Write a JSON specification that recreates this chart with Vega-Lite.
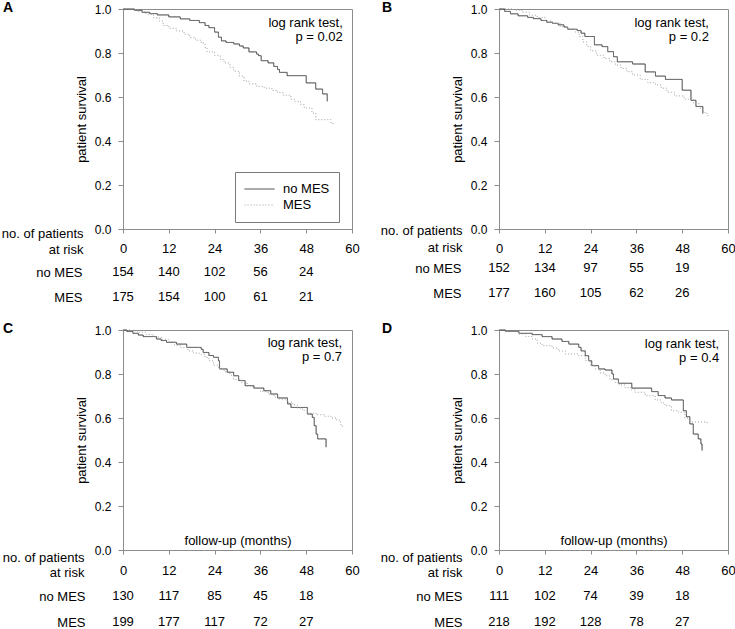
{
  "$schema": "https://vega.github.io/schema/vega-lite/v6.json",
  "background": "white",
  "padding": {"left": 1, "top": 0, "right": 0, "bottom": 0},
  "config": {
    "font": "Liberation Sans",
    "view": {"stroke": "#8c8c8c", "strokeWidth": 1},
    "axis": {"grid": false, "domainColor": "#8c8c8c", "tickColor": "#8c8c8c", "labelColor": "black", "titleColor": "black", "labelFont": "Liberation Sans", "titleFont": "Liberation Sans", "titleFontWeight": "normal", "labelFontSize": 13, "titleFontSize": 13},
    "title": {"anchor": "start", "frame": "group", "offset": -12, "baseline": "middle", "fontSize": 14, "fontWeight": "bold", "color": "black", "font": "Liberation Sans"},
    "text": {"font": "Liberation Sans", "fontSize": 13, "color": "black"}
  },
  "datasets": {
    "km": [
      {"panel":"A","group":"no MES","t":0,"s":1},{"panel":"A","group":"no MES","t":3,"s":0.994},{"panel":"A","group":"no MES","t":5,"s":0.985},{"panel":"A","group":"no MES","t":7,"s":0.979},{"panel":"A","group":"no MES","t":9,"s":0.973},{"panel":"A","group":"no MES","t":12,"s":0.964},{"panel":"A","group":"no MES","t":15,"s":0.955},{"panel":"A","group":"no MES","t":17.5,"s":0.948},{"panel":"A","group":"no MES","t":20,"s":0.938},{"panel":"A","group":"no MES","t":21.5,"s":0.925},{"panel":"A","group":"no MES","t":22.5,"s":0.915},{"panel":"A","group":"no MES","t":24,"s":0.895},{"panel":"A","group":"no MES","t":25,"s":0.872},{"panel":"A","group":"no MES","t":25.8,"s":0.855},{"panel":"A","group":"no MES","t":27,"s":0.848},{"panel":"A","group":"no MES","t":29,"s":0.841},{"panel":"A","group":"no MES","t":30.5,"s":0.832},{"panel":"A","group":"no MES","t":31.5,"s":0.823},{"panel":"A","group":"no MES","t":33,"s":0.805},{"panel":"A","group":"no MES","t":35,"s":0.795},{"panel":"A","group":"no MES","t":35.5,"s":0.788},{"panel":"A","group":"no MES","t":36.2,"s":0.765},{"panel":"A","group":"no MES","t":38,"s":0.755},{"panel":"A","group":"no MES","t":39.5,"s":0.739},{"panel":"A","group":"no MES","t":40.5,"s":0.725},{"panel":"A","group":"no MES","t":41,"s":0.712},{"panel":"A","group":"no MES","t":43,"s":0.697},{"panel":"A","group":"no MES","t":48,"s":0.664},{"panel":"A","group":"no MES","t":50.5,"s":0.636},{"panel":"A","group":"no MES","t":52.3,"s":0.614},{"panel":"A","group":"no MES","t":53.5,"s":0.58},
      {"panel":"A","group":"MES","t":0,"s":1},{"panel":"A","group":"MES","t":2,"s":0.997},{"panel":"A","group":"MES","t":4,"s":0.988},{"panel":"A","group":"MES","t":6,"s":0.976},{"panel":"A","group":"MES","t":8,"s":0.96},{"panel":"A","group":"MES","t":9.5,"s":0.945},{"panel":"A","group":"MES","t":10.5,"s":0.925},{"panel":"A","group":"MES","t":12,"s":0.912},{"panel":"A","group":"MES","t":14,"s":0.9},{"panel":"A","group":"MES","t":16,"s":0.885},{"panel":"A","group":"MES","t":17.5,"s":0.87},{"panel":"A","group":"MES","t":19,"s":0.858},{"panel":"A","group":"MES","t":20.5,"s":0.845},{"panel":"A","group":"MES","t":21.5,"s":0.825},{"panel":"A","group":"MES","t":22,"s":0.805},{"panel":"A","group":"MES","t":24,"s":0.788},{"panel":"A","group":"MES","t":25.5,"s":0.77},{"panel":"A","group":"MES","t":26.5,"s":0.755},{"panel":"A","group":"MES","t":28,"s":0.735},{"panel":"A","group":"MES","t":29,"s":0.717},{"panel":"A","group":"MES","t":30.5,"s":0.695},{"panel":"A","group":"MES","t":31.7,"s":0.672},{"panel":"A","group":"MES","t":33,"s":0.66},{"panel":"A","group":"MES","t":35,"s":0.648},{"panel":"A","group":"MES","t":37,"s":0.64},{"panel":"A","group":"MES","t":39,"s":0.63},{"panel":"A","group":"MES","t":40.5,"s":0.62},{"panel":"A","group":"MES","t":42,"s":0.608},{"panel":"A","group":"MES","t":44,"s":0.59},{"panel":"A","group":"MES","t":45,"s":0.58},{"panel":"A","group":"MES","t":46.5,"s":0.565},{"panel":"A","group":"MES","t":47.5,"s":0.55},{"panel":"A","group":"MES","t":49.5,"s":0.527},{"panel":"A","group":"MES","t":50.5,"s":0.497},{"panel":"A","group":"MES","t":54.5,"s":0.482},{"panel":"A","group":"MES","t":55,"s":0.474},
      {"panel":"B","group":"no MES","t":0,"s":1},{"panel":"B","group":"no MES","t":1.5,"s":0.989},{"panel":"B","group":"no MES","t":3,"s":0.978},{"panel":"B","group":"no MES","t":5,"s":0.969},{"panel":"B","group":"no MES","t":7.5,"s":0.962},{"panel":"B","group":"no MES","t":9,"s":0.956},{"panel":"B","group":"no MES","t":11,"s":0.948},{"panel":"B","group":"no MES","t":12.5,"s":0.94},{"panel":"B","group":"no MES","t":14,"s":0.935},{"panel":"B","group":"no MES","t":15.5,"s":0.928},{"panel":"B","group":"no MES","t":17,"s":0.918},{"panel":"B","group":"no MES","t":18,"s":0.908},{"panel":"B","group":"no MES","t":20.5,"s":0.902},{"panel":"B","group":"no MES","t":21.5,"s":0.89},{"panel":"B","group":"no MES","t":22.5,"s":0.875},{"panel":"B","group":"no MES","t":25,"s":0.837},{"panel":"B","group":"no MES","t":27,"s":0.829},{"panel":"B","group":"no MES","t":28.5,"s":0.806},{"panel":"B","group":"no MES","t":30,"s":0.783},{"panel":"B","group":"no MES","t":31,"s":0.76},{"panel":"B","group":"no MES","t":35,"s":0.75},{"panel":"B","group":"no MES","t":38.3,"s":0.714},{"panel":"B","group":"no MES","t":41,"s":0.695},{"panel":"B","group":"no MES","t":43.6,"s":0.68},{"panel":"B","group":"no MES","t":48,"s":0.631},{"panel":"B","group":"no MES","t":50.3,"s":0.585},{"panel":"B","group":"no MES","t":51.6,"s":0.557},{"panel":"B","group":"no MES","t":53.4,"s":0.524},
      {"panel":"B","group":"MES","t":0,"s":1},{"panel":"B","group":"MES","t":4,"s":0.995},{"panel":"B","group":"MES","t":6,"s":0.985},{"panel":"B","group":"MES","t":8,"s":0.972},{"panel":"B","group":"MES","t":10,"s":0.962},{"panel":"B","group":"MES","t":12,"s":0.945},{"panel":"B","group":"MES","t":14,"s":0.935},{"panel":"B","group":"MES","t":16,"s":0.92},{"panel":"B","group":"MES","t":18,"s":0.91},{"panel":"B","group":"MES","t":20,"s":0.895},{"panel":"B","group":"MES","t":21,"s":0.875},{"panel":"B","group":"MES","t":22,"s":0.85},{"panel":"B","group":"MES","t":23,"s":0.83},{"panel":"B","group":"MES","t":24,"s":0.81},{"panel":"B","group":"MES","t":25.5,"s":0.79},{"panel":"B","group":"MES","t":27.5,"s":0.775},{"panel":"B","group":"MES","t":29,"s":0.76},{"panel":"B","group":"MES","t":30.5,"s":0.745},{"panel":"B","group":"MES","t":32,"s":0.73},{"panel":"B","group":"MES","t":33.5,"s":0.715},{"panel":"B","group":"MES","t":35,"s":0.7},{"panel":"B","group":"MES","t":37,"s":0.68},{"panel":"B","group":"MES","t":39,"s":0.665},{"panel":"B","group":"MES","t":41,"s":0.655},{"panel":"B","group":"MES","t":42.5,"s":0.64},{"panel":"B","group":"MES","t":44,"s":0.622},{"panel":"B","group":"MES","t":46,"s":0.605},{"panel":"B","group":"MES","t":48.5,"s":0.59},{"panel":"B","group":"MES","t":51,"s":0.57},{"panel":"B","group":"MES","t":52.5,"s":0.55},{"panel":"B","group":"MES","t":53.5,"s":0.53},{"panel":"B","group":"MES","t":54.5,"s":0.515},{"panel":"B","group":"MES","t":55,"s":0.51},
      {"panel":"C","group":"no MES","t":0,"s":1},{"panel":"C","group":"no MES","t":1,"s":0.993},{"panel":"C","group":"no MES","t":2.6,"s":0.985},{"panel":"C","group":"no MES","t":4,"s":0.977},{"panel":"C","group":"no MES","t":5.3,"s":0.97},{"panel":"C","group":"no MES","t":8.8,"s":0.959},{"panel":"C","group":"no MES","t":10,"s":0.952},{"panel":"C","group":"no MES","t":11.4,"s":0.944},{"panel":"C","group":"no MES","t":14,"s":0.936},{"panel":"C","group":"no MES","t":16.7,"s":0.921},{"panel":"C","group":"no MES","t":20.5,"s":0.912},{"panel":"C","group":"no MES","t":21,"s":0.898},{"panel":"C","group":"no MES","t":22.5,"s":0.884},{"panel":"C","group":"no MES","t":23.7,"s":0.876},{"panel":"C","group":"no MES","t":25,"s":0.86},{"panel":"C","group":"no MES","t":25.3,"s":0.823},{"panel":"C","group":"no MES","t":27.3,"s":0.808},{"panel":"C","group":"no MES","t":29,"s":0.792},{"panel":"C","group":"no MES","t":30.3,"s":0.77},{"panel":"C","group":"no MES","t":32,"s":0.747},{"panel":"C","group":"no MES","t":34.3,"s":0.736},{"panel":"C","group":"no MES","t":36.9,"s":0.724},{"panel":"C","group":"no MES","t":38.7,"s":0.709},{"panel":"C","group":"no MES","t":40.5,"s":0.691},{"panel":"C","group":"no MES","t":43.1,"s":0.664},{"panel":"C","group":"no MES","t":44,"s":0.648},{"panel":"C","group":"no MES","t":48.3,"s":0.618},{"panel":"C","group":"no MES","t":49.6,"s":0.603},{"panel":"C","group":"no MES","t":50.1,"s":0.565},{"panel":"C","group":"no MES","t":50.6,"s":0.527},{"panel":"C","group":"no MES","t":51,"s":0.505},{"panel":"C","group":"no MES","t":53.2,"s":0.467},
      {"panel":"C","group":"MES","t":0,"s":1},{"panel":"C","group":"MES","t":2,"s":0.996},{"panel":"C","group":"MES","t":4,"s":0.99},{"panel":"C","group":"MES","t":6,"s":0.98},{"panel":"C","group":"MES","t":8,"s":0.968},{"panel":"C","group":"MES","t":10,"s":0.958},{"panel":"C","group":"MES","t":12,"s":0.948},{"panel":"C","group":"MES","t":13.5,"s":0.93},{"panel":"C","group":"MES","t":15,"s":0.92},{"panel":"C","group":"MES","t":17,"s":0.905},{"panel":"C","group":"MES","t":18.5,"s":0.895},{"panel":"C","group":"MES","t":20,"s":0.89},{"panel":"C","group":"MES","t":21.5,"s":0.875},{"panel":"C","group":"MES","t":22.5,"s":0.86},{"panel":"C","group":"MES","t":23.7,"s":0.84},{"panel":"C","group":"MES","t":25,"s":0.825},{"panel":"C","group":"MES","t":26.5,"s":0.81},{"panel":"C","group":"MES","t":28,"s":0.795},{"panel":"C","group":"MES","t":29,"s":0.775},{"panel":"C","group":"MES","t":31,"s":0.76},{"panel":"C","group":"MES","t":32.5,"s":0.745},{"panel":"C","group":"MES","t":34,"s":0.735},{"panel":"C","group":"MES","t":36,"s":0.72},{"panel":"C","group":"MES","t":38,"s":0.708},{"panel":"C","group":"MES","t":39.6,"s":0.695},{"panel":"C","group":"MES","t":41,"s":0.685},{"panel":"C","group":"MES","t":43,"s":0.672},{"panel":"C","group":"MES","t":44.5,"s":0.66},{"panel":"C","group":"MES","t":45.7,"s":0.645},{"panel":"C","group":"MES","t":47,"s":0.635},{"panel":"C","group":"MES","t":48.4,"s":0.622},{"panel":"C","group":"MES","t":50.6,"s":0.615},{"panel":"C","group":"MES","t":52.8,"s":0.608},{"panel":"C","group":"MES","t":54.5,"s":0.6},{"panel":"C","group":"MES","t":56,"s":0.59},{"panel":"C","group":"MES","t":57,"s":0.57},{"panel":"C","group":"MES","t":57.5,"s":0.56},
      {"panel":"D","group":"no MES","t":0,"s":1},{"panel":"D","group":"no MES","t":1.7,"s":0.994},{"panel":"D","group":"no MES","t":5.2,"s":0.985},{"panel":"D","group":"no MES","t":8.7,"s":0.979},{"panel":"D","group":"no MES","t":11.3,"s":0.97},{"panel":"D","group":"no MES","t":13.9,"s":0.959},{"panel":"D","group":"no MES","t":16.5,"s":0.948},{"panel":"D","group":"no MES","t":18.3,"s":0.936},{"panel":"D","group":"no MES","t":20.9,"s":0.921},{"panel":"D","group":"no MES","t":21.5,"s":0.905},{"panel":"D","group":"no MES","t":22.6,"s":0.883},{"panel":"D","group":"no MES","t":23.5,"s":0.86},{"panel":"D","group":"no MES","t":24.3,"s":0.838},{"panel":"D","group":"no MES","t":26.1,"s":0.823},{"panel":"D","group":"no MES","t":27.8,"s":0.818},{"panel":"D","group":"no MES","t":29.6,"s":0.8},{"panel":"D","group":"no MES","t":30,"s":0.777},{"panel":"D","group":"no MES","t":31.3,"s":0.758},{"panel":"D","group":"no MES","t":34.8,"s":0.736},{"panel":"D","group":"no MES","t":40,"s":0.72},{"panel":"D","group":"no MES","t":41.7,"s":0.702},{"panel":"D","group":"no MES","t":43.5,"s":0.691},{"panel":"D","group":"no MES","t":45.2,"s":0.682},{"panel":"D","group":"no MES","t":48.3,"s":0.633},{"panel":"D","group":"no MES","t":49.1,"s":0.606},{"panel":"D","group":"no MES","t":50,"s":0.573},{"panel":"D","group":"no MES","t":50.9,"s":0.527},{"panel":"D","group":"no MES","t":52.2,"s":0.505},{"panel":"D","group":"no MES","t":52.9,"s":0.482},{"panel":"D","group":"no MES","t":53.2,"s":0.452},
      {"panel":"D","group":"MES","t":0,"s":1},{"panel":"D","group":"MES","t":2,"s":0.995},{"panel":"D","group":"MES","t":5.2,"s":0.982},{"panel":"D","group":"MES","t":7,"s":0.97},{"panel":"D","group":"MES","t":8.7,"s":0.959},{"panel":"D","group":"MES","t":10,"s":0.94},{"panel":"D","group":"MES","t":11.3,"s":0.929},{"panel":"D","group":"MES","t":13.9,"s":0.918},{"panel":"D","group":"MES","t":15.5,"s":0.905},{"panel":"D","group":"MES","t":17.4,"s":0.891},{"panel":"D","group":"MES","t":20.9,"s":0.883},{"panel":"D","group":"MES","t":22.6,"s":0.861},{"panel":"D","group":"MES","t":24,"s":0.84},{"panel":"D","group":"MES","t":25.2,"s":0.823},{"panel":"D","group":"MES","t":26.5,"s":0.805},{"panel":"D","group":"MES","t":27.8,"s":0.792},{"panel":"D","group":"MES","t":29,"s":0.775},{"panel":"D","group":"MES","t":30.4,"s":0.762},{"panel":"D","group":"MES","t":31.5,"s":0.75},{"panel":"D","group":"MES","t":33,"s":0.739},{"panel":"D","group":"MES","t":34.5,"s":0.728},{"panel":"D","group":"MES","t":35.7,"s":0.717},{"panel":"D","group":"MES","t":38.3,"s":0.702},{"panel":"D","group":"MES","t":40.9,"s":0.682},{"panel":"D","group":"MES","t":42.5,"s":0.668},{"panel":"D","group":"MES","t":43.5,"s":0.656},{"panel":"D","group":"MES","t":45.2,"s":0.633},{"panel":"D","group":"MES","t":47,"s":0.626},{"panel":"D","group":"MES","t":48.7,"s":0.6},{"panel":"D","group":"MES","t":50,"s":0.582},{"panel":"D","group":"MES","t":54.5,"s":0.575}
    ],
    "risk": [
      {"panel":"A","group":"no MES","t":0,"n":154},{"panel":"A","group":"no MES","t":12,"n":140},{"panel":"A","group":"no MES","t":24,"n":102},{"panel":"A","group":"no MES","t":36,"n":56},{"panel":"A","group":"no MES","t":48,"n":24},
      {"panel":"A","group":"MES","t":0,"n":175},{"panel":"A","group":"MES","t":12,"n":154},{"panel":"A","group":"MES","t":24,"n":100},{"panel":"A","group":"MES","t":36,"n":61},{"panel":"A","group":"MES","t":48,"n":21},
      {"panel":"B","group":"no MES","t":0,"n":152},{"panel":"B","group":"no MES","t":12,"n":134},{"panel":"B","group":"no MES","t":24,"n":97},{"panel":"B","group":"no MES","t":36,"n":55},{"panel":"B","group":"no MES","t":48,"n":19},
      {"panel":"B","group":"MES","t":0,"n":177},{"panel":"B","group":"MES","t":12,"n":160},{"panel":"B","group":"MES","t":24,"n":105},{"panel":"B","group":"MES","t":36,"n":62},{"panel":"B","group":"MES","t":48,"n":26},
      {"panel":"C","group":"no MES","t":0,"n":130},{"panel":"C","group":"no MES","t":12,"n":117},{"panel":"C","group":"no MES","t":24,"n":85},{"panel":"C","group":"no MES","t":36,"n":45},{"panel":"C","group":"no MES","t":48,"n":18},
      {"panel":"C","group":"MES","t":0,"n":199},{"panel":"C","group":"MES","t":12,"n":177},{"panel":"C","group":"MES","t":24,"n":117},{"panel":"C","group":"MES","t":36,"n":72},{"panel":"C","group":"MES","t":48,"n":27},
      {"panel":"D","group":"no MES","t":0,"n":111},{"panel":"D","group":"no MES","t":12,"n":102},{"panel":"D","group":"no MES","t":24,"n":74},{"panel":"D","group":"no MES","t":36,"n":39},{"panel":"D","group":"no MES","t":48,"n":18},
      {"panel":"D","group":"MES","t":0,"n":218},{"panel":"D","group":"MES","t":12,"n":192},{"panel":"D","group":"MES","t":24,"n":128},{"panel":"D","group":"MES","t":36,"n":78},{"panel":"D","group":"MES","t":48,"n":27}
    ]
  },
  "columns": 2,
  "bounds": "flush",
  "align": "each",
  "spacing": {"row": 20, "column": 147},
  "resolve": {"scale": {"x": "independent", "y": "independent", "color": "independent", "strokeDash": "independent"}, "legend": {"color": "independent", "strokeDash": "independent"}},
  "concat": [
    {
      "width": 229, "height": 220,
      "title": {"text": "A", "dx": -120},
      "layer": [
        {
          "data": {"name": "km"}, "transform": [{"filter": "datum.panel === 'A'"}],
          "mark": {"type": "line", "interpolate": "step-after", "strokeWidth": 1},
          "encoding": {
            "x": {"field": "t", "type": "quantitative", "scale": {"domain": [0, 60], "nice": false}, "axis": {"values": [0,12,24,36,48,60], "title": null, "labelFlush": false, "tickSize": 4, "labelPadding": 9}},
            "y": {"field": "s", "type": "quantitative", "scale": {"domain": [0, 1], "nice": false}, "axis": {"values": [0,0.2,0.4,0.6,0.8,1], "format": ".1f", "title": "patient survival", "tickSize": 5, "labelPadding": 7, "titlePadding": 6, "labelFontSize": 12}},
            "color": {"field": "group", "type": "nominal", "scale": {"domain": ["no MES", "MES"], "range": ["#3c3c3c", "#a0a0a0"]},
              "legend": {"orient": "none", "legendX": 112, "legendY": 163, "title": null, "symbolType": "stroke", "symbolSize": 900, "symbolStrokeWidth": 1, "clipHeight": 16, "rowPadding": 0, "labelOffset": 8, "padding": 9, "strokeColor": "#7a7a7a", "fillColor": "white", "labelFontSize": 13, "labelColor": "black", "labelFont": "Liberation Sans"}},
            "strokeDash": {"field": "group", "type": "nominal", "scale": {"domain": ["no MES", "MES"], "range": [[1, 0], [1, 2]]},
              "legend": {"orient": "none", "legendX": 112, "legendY": 163, "title": null, "symbolType": "stroke", "symbolSize": 900, "symbolStrokeWidth": 1, "clipHeight": 16, "rowPadding": 0, "labelOffset": 8, "padding": 9, "strokeColor": "#7a7a7a", "fillColor": "white", "labelFontSize": 13, "labelColor": "black", "labelFont": "Liberation Sans"}}
          }
        },
        {
          "data": {"values": [{"note": "A"}]},
          "mark": {"type": "text", "align": "right", "baseline": "alphabetic", "lineHeight": 14, "fontSize": 13, "text": ["log rank test,", "p = 0.02"]},
          "encoding": {"x": {"datum": 57.6, "type": "quantitative"}, "y": {"datum": 0.917, "type": "quantitative"}}
        }
      ]
    },
    {
      "width": 229, "height": 220,
      "title": {"text": "B", "dx": -117},
      "layer": [
        {
          "data": {"name": "km"}, "transform": [{"filter": "datum.panel === 'B'"}],
          "mark": {"type": "line", "interpolate": "step-after", "strokeWidth": 1},
          "encoding": {
            "x": {"field": "t", "type": "quantitative", "scale": {"domain": [0, 60], "nice": false}, "axis": {"values": [0,12,24,36,48,60], "title": null, "labelFlush": false, "tickSize": 4, "labelPadding": 9}},
            "y": {"field": "s", "type": "quantitative", "scale": {"domain": [0, 1], "nice": false}, "axis": {"values": [0,0.2,0.4,0.6,0.8,1], "format": ".1f", "title": "patient survival", "tickSize": 5, "labelPadding": 7, "titlePadding": 6, "labelFontSize": 12}},
            "color": {"field": "group", "type": "nominal", "scale": {"domain": ["no MES", "MES"], "range": ["#3c3c3c", "#a0a0a0"]}, "legend": null},
            "strokeDash": {"field": "group", "type": "nominal", "scale": {"domain": ["no MES", "MES"], "range": [[1, 0], [1, 2]]}, "legend": null}
          }
        },
        {
          "data": {"values": [{"note": "B"}]},
          "mark": {"type": "text", "align": "right", "baseline": "alphabetic", "lineHeight": 14, "fontSize": 13, "text": ["log rank test,", "p = 0.2"]},
          "encoding": {"x": {"datum": 55.0, "type": "quantitative"}, "y": {"datum": 0.92, "type": "quantitative"}}
        }
      ]
    },
    {
      "width": 229, "height": 61,
      "view": {"stroke": null},
      "data": {"name": "risk"}, "transform": [{"filter": "datum.panel === 'A'"}],
      "mark": {"type": "text", "fontSize": 13, "baseline": "middle", "align": "center"},
      "encoding": {
        "x": {"field": "t", "type": "quantitative", "scale": {"domain": [0, 60], "nice": false}, "axis": null},
        "y": {"field": "group", "type": "nominal", "scale": {"type": "point", "padding": 0, "domain": ["no MES", "MES"], "range": [23, 48]},
          "axis": {"title": ["no. of patients", "at risk"], "titleAngle": 0, "titleAlign": "right", "titleBaseline": "middle", "titleX": -40, "titleY": -16, "titleLineHeight": 16, "domain": false, "ticks": false, "tickSize": 0, "labelPadding": 41, "labelFontSize": 13}},
        "text": {"field": "n", "type": "quantitative"}
      }
    },
    {
      "width": 229, "height": 61,
      "view": {"stroke": null},
      "data": {"name": "risk"}, "transform": [{"filter": "datum.panel === 'B'"}],
      "mark": {"type": "text", "fontSize": 13, "baseline": "middle", "align": "center"},
      "encoding": {
        "x": {"field": "t", "type": "quantitative", "scale": {"domain": [0, 60], "nice": false}, "axis": null},
        "y": {"field": "group", "type": "nominal", "scale": {"type": "point", "padding": 0, "domain": ["no MES", "MES"], "range": [19, 44]},
          "axis": {"title": ["no. of patients", "at risk"], "titleAngle": 0, "titleAlign": "right", "titleBaseline": "middle", "titleX": -37, "titleY": -19, "titleLineHeight": 17, "domain": false, "ticks": false, "tickSize": 0, "labelPadding": 38, "labelFontSize": 13}},
        "text": {"field": "n", "type": "quantitative"}
      }
    },
    {
      "width": 229, "height": 220,
      "title": {"text": "C", "dx": -120},
      "layer": [
        {
          "data": {"name": "km"}, "transform": [{"filter": "datum.panel === 'C'"}],
          "mark": {"type": "line", "interpolate": "step-after", "strokeWidth": 1},
          "encoding": {
            "x": {"field": "t", "type": "quantitative", "scale": {"domain": [0, 60], "nice": false}, "axis": {"values": [0,12,24,36,48,60], "title": "follow-up (months)", "titleY": -10, "titleBaseline": "middle", "labelFlush": false, "tickSize": 4, "labelPadding": 10}},
            "y": {"field": "s", "type": "quantitative", "scale": {"domain": [0, 1], "nice": false}, "axis": {"values": [0,0.2,0.4,0.6,0.8,1], "format": ".1f", "title": "patient survival", "tickSize": 5, "labelPadding": 7, "titlePadding": 6, "labelFontSize": 12}},
            "color": {"field": "group", "type": "nominal", "scale": {"domain": ["no MES", "MES"], "range": ["#3c3c3c", "#a0a0a0"]}, "legend": null},
            "strokeDash": {"field": "group", "type": "nominal", "scale": {"domain": ["no MES", "MES"], "range": [[1, 0], [1, 2]]}, "legend": null}
          }
        },
        {
          "data": {"values": [{"note": "C"}]},
          "mark": {"type": "text", "align": "right", "baseline": "alphabetic", "lineHeight": 14, "fontSize": 13, "text": ["log rank test,", "p = 0.7"]},
          "encoding": {"x": {"datum": 57.4, "type": "quantitative"}, "y": {"datum": 0.921, "type": "quantitative"}}
        }
      ]
    },
    {
      "width": 229, "height": 220,
      "title": {"text": "D", "dx": -117},
      "layer": [
        {
          "data": {"name": "km"}, "transform": [{"filter": "datum.panel === 'D'"}],
          "mark": {"type": "line", "interpolate": "step-after", "strokeWidth": 1},
          "encoding": {
            "x": {"field": "t", "type": "quantitative", "scale": {"domain": [0, 60], "nice": false}, "axis": {"values": [0,12,24,36,48,60], "title": "follow-up (months)", "titleY": -10, "titleBaseline": "middle", "labelFlush": false, "tickSize": 4, "labelPadding": 10}},
            "y": {"field": "s", "type": "quantitative", "scale": {"domain": [0, 1], "nice": false}, "axis": {"values": [0,0.2,0.4,0.6,0.8,1], "format": ".1f", "title": "patient survival", "tickSize": 5, "labelPadding": 7, "titlePadding": 6, "labelFontSize": 12}},
            "color": {"field": "group", "type": "nominal", "scale": {"domain": ["no MES", "MES"], "range": ["#3c3c3c", "#a0a0a0"]}, "legend": null},
            "strokeDash": {"field": "group", "type": "nominal", "scale": {"domain": ["no MES", "MES"], "range": [[1, 0], [1, 2]]}, "legend": null}
          }
        },
        {
          "data": {"values": [{"note": "D"}]},
          "mark": {"type": "text", "align": "right", "baseline": "alphabetic", "lineHeight": 14, "fontSize": 13, "text": ["log rank test,", "p = 0.4"]},
          "encoding": {"x": {"datum": 57.7, "type": "quantitative"}, "y": {"datum": 0.918, "type": "quantitative"}}
        }
      ]
    },
    {
      "width": 229, "height": 61,
      "view": {"stroke": null},
      "data": {"name": "risk"}, "transform": [{"filter": "datum.panel === 'C'"}],
      "mark": {"type": "text", "fontSize": 13, "baseline": "middle", "align": "center"},
      "encoding": {
        "x": {"field": "t", "type": "quantitative", "scale": {"domain": [0, 60], "nice": false}, "axis": null},
        "y": {"field": "group", "type": "nominal", "scale": {"type": "point", "padding": 0, "domain": ["no MES", "MES"], "range": [26, 52]},
          "axis": {"title": ["no. of patients", "at risk"], "titleAngle": 0, "titleAlign": "right", "titleBaseline": "middle", "titleX": -39, "titleY": -13, "titleLineHeight": 15, "domain": false, "ticks": false, "tickSize": 0, "labelPadding": 38, "labelFontSize": 13}},
        "text": {"field": "n", "type": "quantitative"}
      }
    },
    {
      "width": 229, "height": 61,
      "view": {"stroke": null},
      "data": {"name": "risk"}, "transform": [{"filter": "datum.panel === 'D'"}],
      "mark": {"type": "text", "fontSize": 13, "baseline": "middle", "align": "center"},
      "encoding": {
        "x": {"field": "t", "type": "quantitative", "scale": {"domain": [0, 60], "nice": false}, "axis": null},
        "y": {"field": "group", "type": "nominal", "scale": {"type": "point", "padding": 0, "domain": ["no MES", "MES"], "range": [26, 52]},
          "axis": {"title": ["no. of patients", "at risk"], "titleAngle": 0, "titleAlign": "right", "titleBaseline": "middle", "titleX": -37, "titleY": -13, "titleLineHeight": 15, "domain": false, "ticks": false, "tickSize": 0, "labelPadding": 37, "labelFontSize": 13}},
        "text": {"field": "n", "type": "quantitative"}
      }
    }
  ]
}
